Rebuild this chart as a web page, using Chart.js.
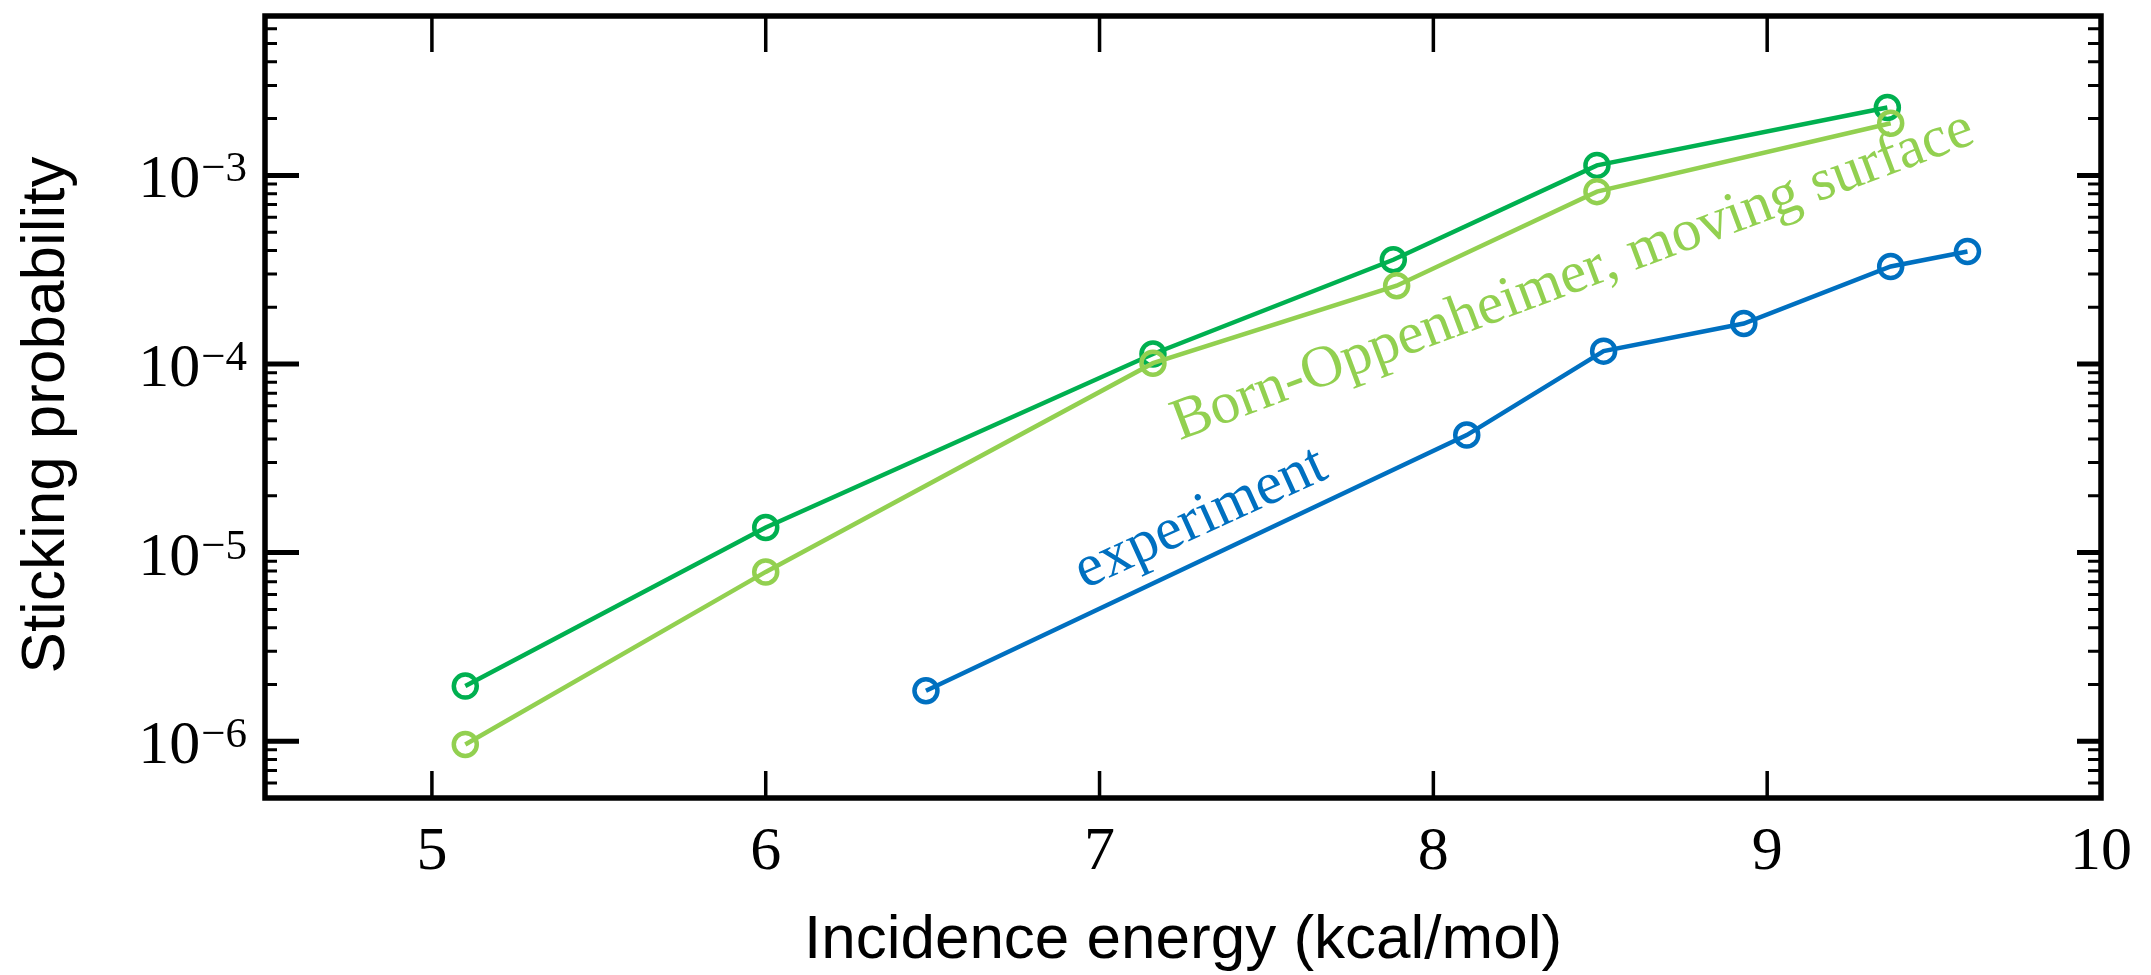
<!DOCTYPE html>
<html><head><meta charset="utf-8">
<script src="https://cdn.jsdelivr.net/npm/chart.js@4.4.1/dist/chart.umd.min.js"></script>
<style>html,body{margin:0;padding:0;background:#fff;} #wrap{width:2151px;height:975px;position:relative;}</style>
</head><body><div id="wrap"><canvas id="c" width="2151" height="975"></canvas></div>
<script>
// ---- data ----
const xStatic   = [5.10, 6.00, 7.16, 7.88, 8.49, 9.36];
const yStatic   = [1.96e-6, 1.36e-5, 1.13e-4, 3.57e-4, 1.13e-3, 2.29e-3];
const xMoving   = [5.10, 6.00, 7.16, 7.89, 8.49, 9.37];
const yMoving   = [9.6e-7, 7.9e-6, 1.01e-4, 2.60e-4, 8.2e-4, 1.89e-3];
const xExp      = [6.48, 8.10, 8.51, 8.93, 9.37, 9.60];
const yExp      = [1.85e-6, 4.2e-5, 1.17e-4, 1.64e-4, 3.29e-4, 3.95e-4];

const xTickValues = [5, 6, 7, 8, 9, 10];
const xTickLabels = ['5', '6', '7', '8', '9', '10'];
const yDecadeValues = [1e-6, 1e-5, 1e-4, 1e-3];
const yDecadeExponents = ['\u22126', '\u22125', '\u22124', '\u22123'];
const xTitle = 'Incidence energy (kcal/mol)';
const yTitle = 'Sticking probability';
const labelMoving = 'Born-Oppenheimer, moving surface';
const labelExp = 'experiment';
const labelMovingAt = [7.24, 3.94e-5];
const labelExpAt = [6.955, 6.41e-6];

const colStatic = '#00B050';
const colMoving = '#92D050';
const colExp = '#0070C0';

function pts(xs, ys) { return xs.map((x, i) => ({x: x, y: ys[i]})); }

function ds(data, color, order) {
  return {
    data: data, showLine: true, borderColor: color, borderWidth: 4.5,
    pointRadius: 11.5, pointBorderWidth: 4.5, pointBorderColor: color,
    pointBackgroundColor: 'rgba(0,0,0,0)', pointStyle: 'circle',
    fill: false, tension: 0, order: order
  };
}

const decor = {
  id: 'decor',
  afterDatasetsDraw(chart) {
    const ctx = chart.ctx, a = chart.chartArea;
    const xs = chart.scales.x, ys = chart.scales.y;
    ctx.save();
    // annotations
    function rotText(txt, at, deg, color, font) {
      const px = xs.getPixelForValue(at[0]), py = ys.getPixelForValue(at[1]);
      ctx.save();
      ctx.translate(px, py);
      ctx.rotate(-deg * Math.PI / 180);
      ctx.fillStyle = color; ctx.font = font;
      ctx.textAlign = 'left'; ctx.textBaseline = 'alphabetic';
      ctx.fillText(txt, 0, 0);
      ctx.restore();
    }
    rotText(labelMoving, labelMovingAt, 20.5, colMoving, '59px "Liberation Serif"');
    rotText(labelExp, labelExpAt, 24.5, colExp, '60px "Liberation Serif"');

    ctx.strokeStyle = '#000';
    ctx.lineCap = 'butt';
    // x ticks
    ctx.lineWidth = 3.5;
    xTickValues.forEach(v => {
      const px = xs.getPixelForValue(v);
      if (px > a.left + 4 && px < a.right - 4) {
        ctx.beginPath();
        ctx.moveTo(px, a.bottom); ctx.lineTo(px, a.bottom - 27);
        ctx.moveTo(px, a.top); ctx.lineTo(px, a.top + 36);
        ctx.stroke();
      }
    });
    // y minor ticks
    ctx.lineWidth = 3;
    const ymin = ys.min, ymax = ys.max;
    for (let e = -8; e <= -1; e++) {
      for (let m = 2; m <= 9; m++) {
        const v = m * Math.pow(10, e);
        if (v <= ymin || v >= ymax) continue;
        const py = ys.getPixelForValue(v);
        ctx.beginPath();
        ctx.moveTo(a.left, py); ctx.lineTo(a.left + 12, py);
        ctx.moveTo(a.right, py); ctx.lineTo(a.right - 13, py);
        ctx.stroke();
      }
    }
    // y major ticks
    ctx.lineWidth = 5;
    yDecadeValues.forEach(v => {
      const py = ys.getPixelForValue(v);
      ctx.beginPath();
      ctx.moveTo(a.left, py); ctx.lineTo(a.left + 34, py);
      ctx.moveTo(a.right, py); ctx.lineTo(a.right - 24, py);
      ctx.stroke();
    });
    // frame
    ctx.lineWidth = 5.5;
    ctx.strokeRect(a.left, a.top, a.right - a.left, a.bottom - a.top);

    // x tick labels
    ctx.fillStyle = '#000';
    ctx.font = '62px "Liberation Serif"';
    ctx.textAlign = 'center'; ctx.textBaseline = 'alphabetic';
    xTickValues.forEach((v, i) => {
      ctx.fillText(xTickLabels[i], xs.getPixelForValue(v), a.bottom + 71);
    });
    // y tick labels 10^e
    yDecadeValues.forEach((v, i) => {
      const py = ys.getPixelForValue(v);
      const rightEdge = a.left - 18;
      ctx.font = '43px "Liberation Serif"';
      ctx.textAlign = 'right';
      ctx.fillText(yDecadeExponents[i], rightEdge, py + 6);
      const w = ctx.measureText(yDecadeExponents[i]).width;
      ctx.font = '62px "Liberation Serif"';
      ctx.fillText('10', rightEdge - w - 1, py + 22);
    });
    // axis titles
    ctx.font = '62px "Liberation Sans"';
    ctx.textAlign = 'center'; ctx.textBaseline = 'alphabetic';
    ctx.fillText(xTitle, (a.left + a.right) / 2, 958);
    ctx.save();
    ctx.translate(64, (a.top + a.bottom) / 2 + 8);
    ctx.rotate(-Math.PI / 2);
    ctx.fillText(yTitle, 0, 0);
    ctx.restore();
    ctx.restore();
  }
};

new Chart(document.getElementById('c'), {
  type: 'scatter',
  data: {
    datasets: [
      ds(pts(xExp, yExp), colExp, 0),
      ds(pts(xMoving, yMoving), colMoving, 1),
      ds(pts(xStatic, yStatic), colStatic, 2)
    ]
  },
  options: {
    responsive: false, animation: false, devicePixelRatio: 1,
    layout: {padding: {left: 265, right: 50, top: 10, bottom: 177}},
    scales: {
      x: {type: 'linear', min: 4.5, max: 10, display: false},
      y: {type: 'logarithmic', min: 5e-7, max: 7e-3, display: false}
    },
    plugins: {legend: {display: false}, tooltip: {enabled: false}}
  },
  plugins: [decor]
});
</script>
</body></html>
